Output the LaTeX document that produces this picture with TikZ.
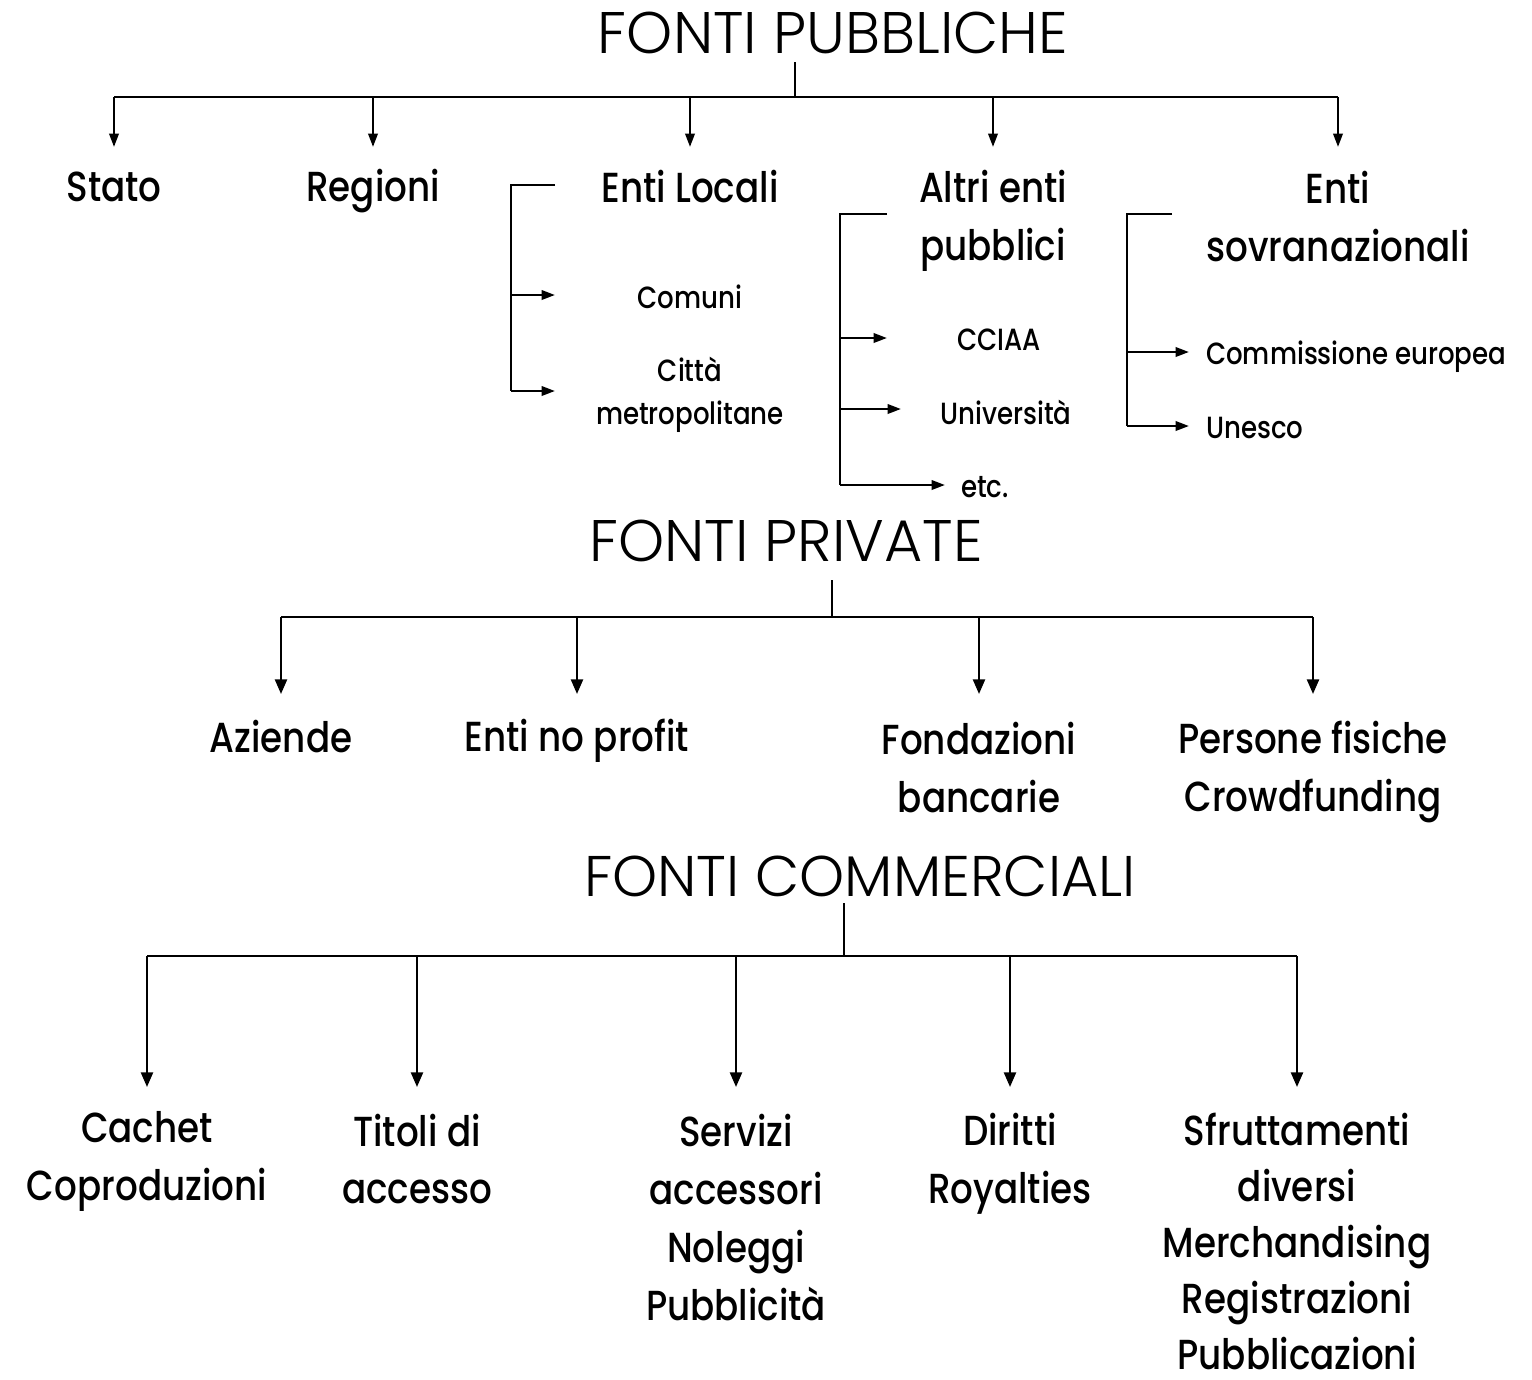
\documentclass[tikz,border=0pt]{standalone}
\usepackage{fontspec}
\newfontfamily\headfont{Poppins Light}
\newfontfamily\itemfont{Poppins Medium}[FakeStretch=0.85]
\usetikzlibrary{arrows.meta}

\tikzset{every picture/.style={line width=1.8pt}}
\tikzset{
  head/.style={inner sep=0pt, font=\headfont\fontsize{44}{52}\selectfont},
  big/.style={inner sep=0pt, align=center, font=\itemfont\fontsize{31.5}{43.5}\selectfont},
  small/.style={inner sep=0pt, align=center, font=\itemfont\fontsize{23}{32}\selectfont},
  arr/.style={-{Triangle[length=10pt,width=7pt]}},
  bigarr/.style={-{Triangle[length=11pt,width=9pt]}},
}

\begin{document}
\begin{tikzpicture}[x=0.75pt,y=0.75pt,yscale=-1,xscale=1]
\useasboundingbox (0,0) rectangle (1532,1379);

% Text Node: headings
\node [head] (pub) at (833,33) {FONTI PUBBLICHE};
\node [head] (priv) at (786,541) {FONTI PRIVATE};
\node [head,font=\headfont\fontsize{43}{52}\selectfont] (comm) at (860,876) {FONTI COMMERCIALI};

% Text Node: fonti pubbliche
\node [big] (stato) at (114,187) {Stato};
\node [big] (regioni) at (373,191) {Regioni};
\node [big] (locali) at (690,187) {Enti Locali};
\node [big] (altri) at (993,221) {Altri enti\\pubblici};
\node [big] (sovr) at (1338,217) {Enti\\sovranazionali};
\node [small] (comuni) at (690,297) {Comuni};
\node [small] (citta) at (690,395) {Città\\metropolitane};
\node [small] (cciaa) at (999,340) {CCIAA};
\node [small] (univ) at (1006,412) {Università};
\node [small] (etc) at (985,487) {etc.};
\node [small,anchor=west] (commeu) at (1205,357) {Commissione europea};
\node [small,anchor=west] (unesco) at (1205,428) {Unesco};

% Text Node: fonti private
\node [big] (aziende) at (281,737) {Aziende};
\node [big] (noprofit) at (577,741) {Enti no profit};
\node [big] (fondaz) at (979,768) {Fondazioni\\bancarie};
\node [big] (persone) at (1313,772) {Persone fisiche\\Crowdfunding};

% Text Node: fonti commerciali
\node [big] (cachet) at (147,1161) {Cachet\\Coproduzioni};
\node [big] (titoli) at (417,1159) {Titoli di\\accesso};
\node [big] (servizi) at (736,1217) {Servizi\\accessori\\Noleggi\\Pubblicità};
\node [big] (diritti) at (1010,1164) {Diritti\\Royalties};
\node [big,font=\itemfont\fontsize{31.5}{42}\selectfont] (sfrutt) at (1297,1241) {Sfruttamenti\\diversi\\Merchandising\\Registrazioni\\Pubblicazioni};

% Connectors: fonti pubbliche
\coordinate (pubstem) at (795,62);
\coordinate (pubroot) at (795,97);
\coordinate (pubtip) at (0,147);
\draw (pubstem) -- (pubroot);
\draw (stato |- pubroot) -- (sovr |- pubroot);
\foreach \n in {stato,regioni,locali,altri,sovr}
  \draw [arr] (\n |- pubroot) -- (\n |- pubtip);

% Bracket: enti locali
\coordinate (lkend) at (555,185);
\coordinate (lk) at (511,185);
\coordinate (lktip) at (555,0);
\draw (lkend) -- (lk) -- (lk |- 0,391);
\foreach \y in {295,391}
  \draw [arr] (lk |- 0,\y) -- (lktip |- 0,\y);

% Bracket: altri enti pubblici
\coordinate (akend) at (887,214);
\coordinate (ak) at (840,214);
\draw (akend) -- (ak) -- (ak |- 0,485);
\draw [arr] (ak |- 0,338) -- (887,338);
\draw [arr] (ak |- 0,409) -- (901,409);
\draw [arr] (ak |- 0,485) -- (945,485);

% Bracket: enti sovranazionali
\coordinate (skend) at (1172,214);
\coordinate (sk) at (1127,214);
\draw (skend) -- (sk) -- (sk |- 0,426);
\draw [arr] (sk |- 0,352) -- (1189,352);
\draw [arr] (sk |- 0,426) -- (1189,426);

% Connectors: fonti private
\coordinate (privstem) at (832,580);
\coordinate (privroot) at (832,617);
\coordinate (privtip) at (0,694);
\draw (privstem) -- (privroot);
\draw (aziende |- privroot) -- (persone |- privroot);
\foreach \n in {aziende,noprofit,fondaz,persone}
  \draw [bigarr] (\n |- privroot) -- (\n |- privtip);

% Connectors: fonti commerciali
\coordinate (commstem) at (844,903);
\coordinate (commroot) at (844,956);
\coordinate (commtip) at (0,1087);
\draw (commstem) -- (commroot);
\draw (cachet |- commroot) -- (sfrutt |- commroot);
\foreach \n in {cachet,titoli,servizi,diritti,sfrutt}
  \draw [bigarr] (\n |- commroot) -- (\n |- commtip);

\end{tikzpicture}
\end{document}
